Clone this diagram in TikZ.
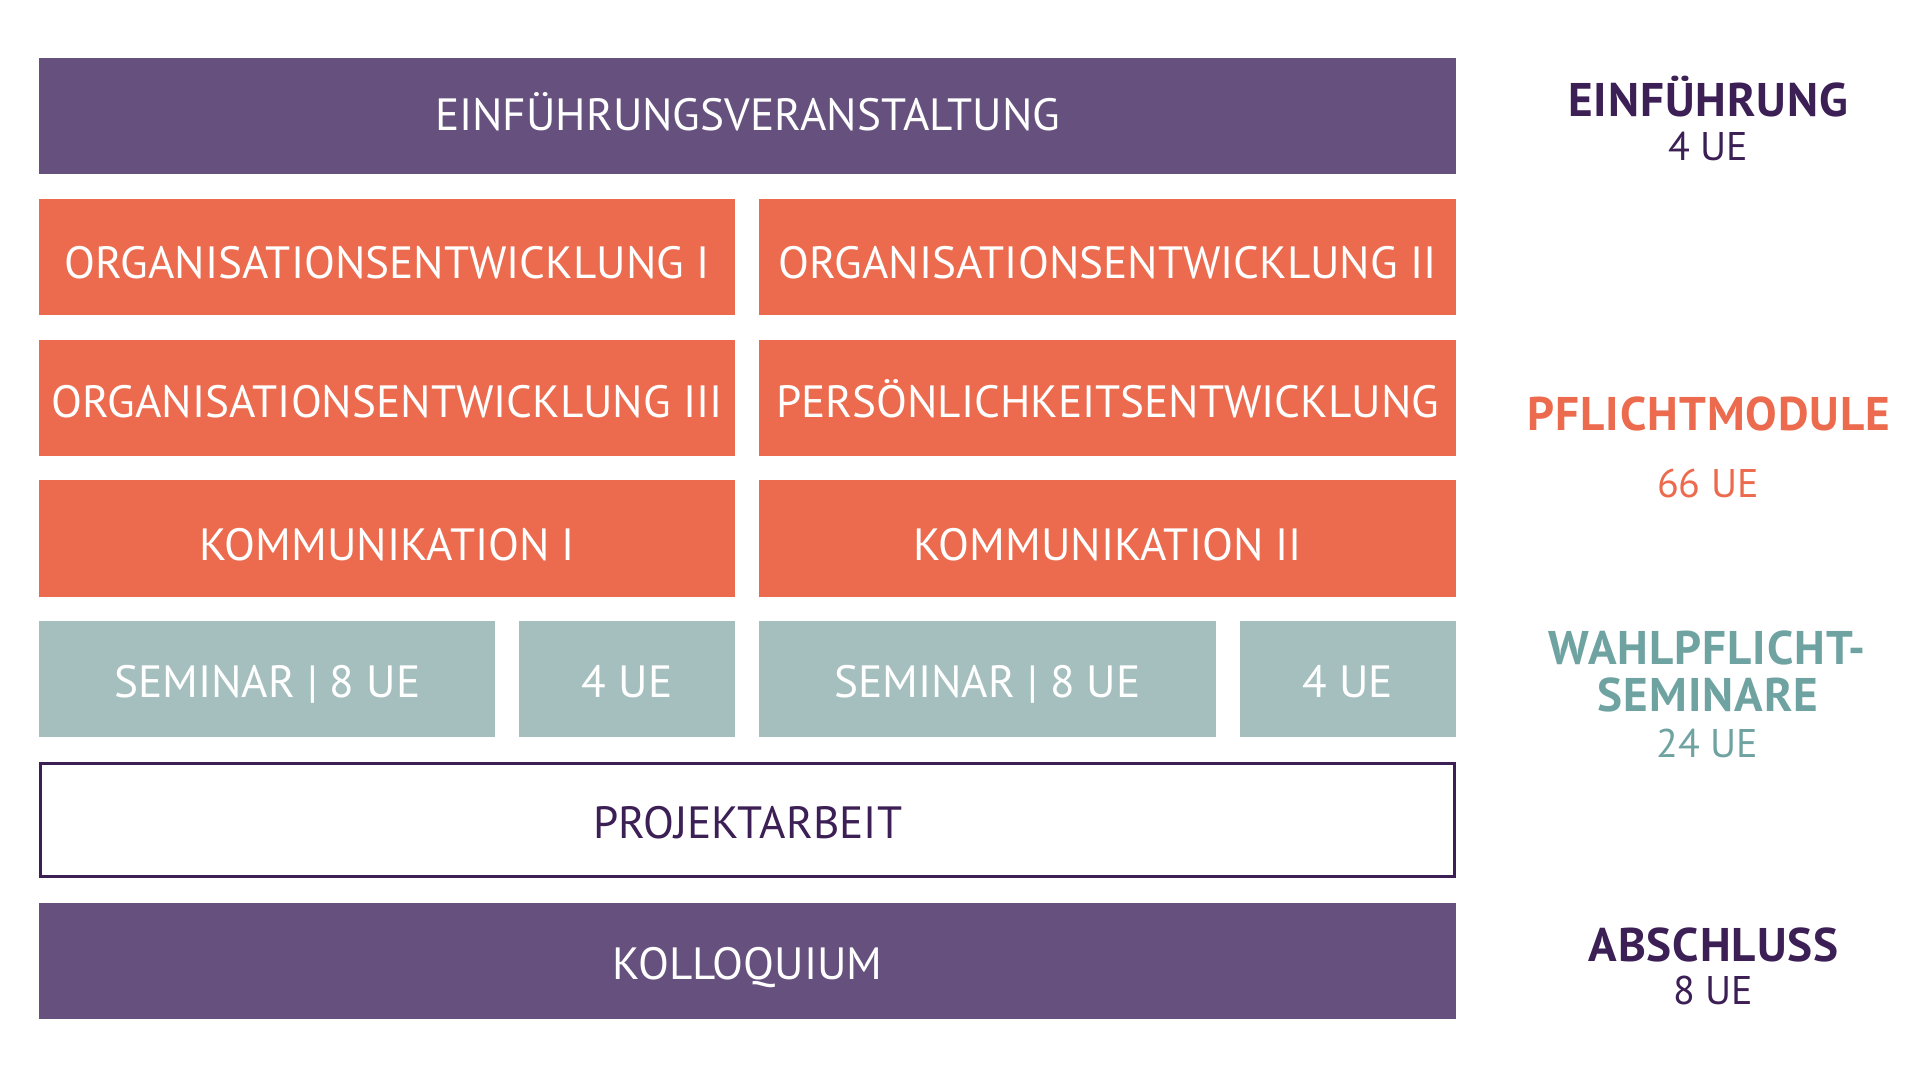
\documentclass[tikz,border=0pt]{standalone}
\usepackage{fontspec}
\setmainfont{PT Sans}
\newfontfamily\boxfont{PT Sans}
\newfontfamily\labfont[LetterSpace=2]{PT Sans}
\definecolor{purp}{HTML}{66507E}
\definecolor{orng}{HTML}{EC6A4D}
\definecolor{teal}{HTML}{A5BFBF}
\definecolor{dpurp}{HTML}{3C1F55}
\definecolor{tealtxt}{HTML}{6FA3A1}
\tikzset{
  box/.style={rectangle, inner sep=0pt, outer sep=0pt, minimum height=58.15bp,
    text height=22bp, text depth=0pt, text=white,
    font=\boxfont\fontsize{22.6bp}{24bp}\selectfont},
  lab/.style={anchor=base, inner sep=0pt, font=\labfont\bfseries\fontsize{23.6bp}{25bp}\selectfont},
  num/.style={anchor=base, inner sep=0pt, font=\fontsize{20bp}{22bp}\selectfont}
}
\begin{document}
\begin{tikzpicture}[x=0.5bp,y=-0.5bp]
\useasboundingbox[fill=white] (0,0) rectangle (1920,1080);
% row 1
\node[box, fill=purp, minimum width=708.35bp, text height=14bp] (einf) at (747.65,116.15) {EINFÜHRUNGSVERANSTALTUNG};
% row 2
\node[box, fill=orng, minimum width=347.85bp] (oe1) at (387.15,256.9) {ORGANISATIONSENTWICKLUNG I};
\node[box, fill=orng, minimum width=348.35bp] (oe2) at (1107.65,256.9) {ORGANISATIONSENTWICKLUNG II};
% row 3
\node[box, fill=orng, minimum width=347.85bp, text height=19.5bp] (oe3) at (387.15,397.65) {ORGANISATIONSENTWICKLUNG III};
\node[box, fill=orng, minimum width=348.35bp, text height=19.5bp] (pers) at (1107.65,397.65) {PERSÖNLICHKEITSENTWICKLUNG};
% row 4
\node[box, fill=orng, minimum width=347.85bp] (kom1) at (387.15,538.4) {KOMMUNIKATION I};
\node[box, fill=orng, minimum width=348.35bp] (kom2) at (1107.65,538.4) {KOMMUNIKATION II};
% row 5
\node[box, fill=teal, minimum width=227.85bp, text height=18.5bp] (sem1) at (267.15,679.15) {SEMINAR | 8 UE};
\node[box, fill=teal, minimum width=107.85bp, text height=18.5bp] (ue1) at (627.15,679.15) {4 UE};
\node[box, fill=teal, minimum width=228.2bp, text height=18.5bp] (sem2) at (987.5,679.15) {SEMINAR | 8 UE};
\node[box, fill=teal, minimum width=108bp, text height=18.5bp] (ue2) at (1348,679.15) {4 UE};
% row 6
\node[box, fill=white, draw=dpurp, line width=1.5bp, text=dpurp, minimum width=706.85bp, minimum height=56.6bp, text height=18.5bp] (proj) at (747.65,819.9) {PROJEKTARBEIT};
% row 7
\node[box, fill=purp, minimum width=708.35bp, text height=18.5bp] (kol) at (747.65,960.65) {KOLLOQUIUM};
% right labels
\node[lab, text=dpurp] (l1) at (1708,116) {EINFÜHRUNG};
\node[num, text=dpurp] (n1) at (1708,160) {4 UE};
\node[lab, text=orng] (l2) at (1709,430.7) {PFLICHTMODULE};
\node[num, text=orng] (n2) at (1708,497.3) {66 UE};
\node[lab, text=tealtxt] (l3a) at (1707,664) {WAHLPFLICHT-};
\node[lab, text=tealtxt] (l3b) at (1708,711.7) {SEMINARE};
\node[num, text=tealtxt] (n3) at (1707.5,757.3) {24 UE};
\node[lab, text=dpurp] (l4) at (1713.5,961) {ABSCHLUSS};
\node[num, text=dpurp] (n4) at (1713,1004.3) {8 UE};
\end{tikzpicture}
\end{document}
